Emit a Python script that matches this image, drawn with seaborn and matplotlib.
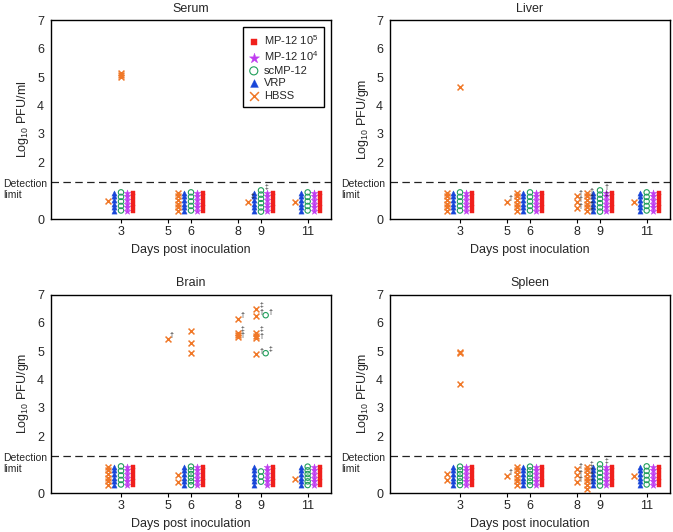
import pandas as pd
import seaborn as sns
import matplotlib
matplotlib.use("Agg")
from matplotlib import pyplot as plt
from matplotlib import transforms as mtransforms

# ------------------------------------------------- #
# series names, colours and markers
MP5 = "MP-12 10$^5$"
MP4 = "MP-12 10$^4$"
SC = "scMP-12"
VRP = "VRP"
HB = "HBSS"
legend_order = [MP5, MP4, SC, VRP, HB]
days = [3, 5, 6, 8, 9, 11]
detection_limit = 1.3

# stacked values under the detection limit
S2 = [0.45, 0.68]
S3 = [0.40, 0.58, 0.76]
S5 = [0.30, 0.46, 0.62, 0.78, 0.94]
S6 = [0.28, 0.41, 0.54, 0.67, 0.80, 0.93]
S6C = [0.26, 0.41, 0.56, 0.71, 0.86, 1.01]
S7 = [0.15, 0.28, 0.41, 0.54, 0.67, 0.80, 0.93]

# (series, day, values, shift)  shift=None -> usual group offset
serum = [
    (HB, 3, [0.62], None), (HB, 3, [5.0, 5.07, 5.16], 0),
    (VRP, 3, S6, None), (SC, 3, S5, None), (MP4, 3, S6, None), (MP5, 3, S6, None),
    (HB, 6, S6, None), (VRP, 6, S6, None), (SC, 6, S5, None), (MP4, 6, S6, None), (MP5, 6, S6, None),
    (HB, 9, [0.6], None), (VRP, 9, S6, None), (SC, 9, S6C, None), (MP4, 9, S6, None), (MP5, 9, S6, None),
    (HB, 11, [0.6], None), (VRP, 11, S6, None), (SC, 11, S5, None), (MP4, 11, S6, None), (MP5, 11, S6, None),
]
liver = [
    (HB, 3, S6, None), (HB, 3, [4.65], 0),
    (VRP, 3, S6, None), (SC, 3, S5, None), (MP4, 3, S6, None), (MP5, 3, S6, None),
    (HB, 5, [0.6], 0),
    (HB, 6, S6, None), (VRP, 6, S6, None), (SC, 6, S5, None), (MP4, 6, S6, None), (MP5, 6, S6, None),
    (HB, 8, [0.38, 0.61, 0.81], 0),
    (HB, 9, S6, None), (VRP, 9, S6, None), (SC, 9, S6C, None), (MP4, 9, S6, None), (MP5, 9, S6, None),
    (HB, 11, [0.6], None), (VRP, 11, S6, None), (SC, 11, S5, None), (MP4, 11, S6, None), (MP5, 11, S6, None),
]
brain = [
    (HB, 3, S6, None), (VRP, 3, S6, None), (SC, 3, S5, None), (MP4, 3, S6, None), (MP5, 3, S6, None),
    (HB, 5, [5.42], 0),
    (HB, 6, [4.95, 5.3, 5.72], 0),
    (HB, 6, [0.4, 0.62], None), (VRP, 6, S6, None), (SC, 6, S6, None), (MP4, 6, S6, None), (MP5, 6, S6, None),
    (HB, 8, [5.5, 5.58, 5.65, 6.12], 0),
    (HB, 9, [4.9, 5.48, 5.55, 5.65, 6.25, 6.48], -0.2),
    (SC, 9, [4.93, 6.27], 0.2),
    (VRP, 9, S6, None), (SC, 9, S3, None), (MP4, 9, S6, None), (MP5, 9, S6, None),
    (HB, 11, [0.5], None), (VRP, 11, S6, None), (SC, 11, S6, None), (MP4, 11, S6, None), (MP5, 11, S6, None),
]
spleen = [
    (HB, 3, S2, None), (HB, 3, [3.85, 4.93, 4.98], 0),
    (VRP, 3, S6, None), (SC, 3, S6, None), (MP4, 3, S6, None), (MP5, 3, S6, None),
    (HB, 5, [0.6], 0),
    (HB, 6, S6, None), (VRP, 6, S6, None), (SC, 6, S6, None), (MP4, 6, S6, None), (MP5, 6, S6, None),
    (HB, 8, [0.4, 0.62, 0.85], 0),
    (HB, 9, S7, None), (VRP, 9, S6, None), (SC, 9, S6C, None), (MP4, 9, S6, None), (MP5, 9, S6, None),
    (HB, 11, [0.6], None), (VRP, 11, S6, None), (SC, 11, S5, None), (MP4, 11, S6, None), (MP5, 11, S6, None),
]

# dagger marks (text, x, y)
serum_marks = [("‡", 8.62, 0.78), ("‡", 9.22, 1.1)]
liver_marks = [("†", 5.18, 0.72), ("†", 8.18, 0.9), ("†", 8.18, 0.68), ("†", 8.18, 0.45),
               ("†", 8.62, 0.98), ("†", 8.62, 0.75), ("†", 8.62, 0.52), ("†", 8.62, 0.3),
               ("†", 9.27, 1.12), ("‡", 9.27, 0.86)]
brain_marks = [("†", 5.18, 5.55), ("†", 8.2, 6.25), ("‡", 8.2, 5.75), ("†", 8.2, 5.55),
               ("‡", 9.0, 6.6), ("†", 9.0, 6.35), ("‡", 9.0, 5.75), ("†", 9.0, 5.52),
               ("†", 9.0, 5.0), ("†", 9.42, 6.38), ("‡", 9.42, 5.05)]
spleen_marks = [("†", 5.18, 0.72), ("†", 8.18, 0.92), ("†", 8.18, 0.7), ("†", 8.18, 0.47),
                ("‡", 8.62, 1.0), ("†", 8.62, 0.8), ("†", 8.62, 0.6), ("†", 8.62, 0.4),
                ("‡", 9.27, 1.1)]
# ------------------------------------------------- #

offset = {HB: -0.55, VRP: -0.28, SC: 0.0, MP4: 0.27, MP5: 0.53}
style = {
    MP5: dict(marker="s", s=9, color="#f0201c", edgecolor="#f0201c", linewidth=0.3),
    MP4: dict(marker="*", s=26, color="#c03cf0", edgecolor="#c03cf0", linewidth=0.3),
    SC: dict(marker="o", s=15, color="#1f9e5a", facecolors="none", edgecolor="#1f9e5a", linewidth=0.8),
    VRP: dict(marker="^", s=14, color="#1846d8", edgecolor="#1846d8", linewidth=0.3),
    HB: dict(marker="x", s=18, color="#f07828", linewidth=1.1),
}

sns.set_style("ticks")
plt.rcParams["font.family"] = ["Liberation Sans", "DejaVu Sans"]
plt.rcParams["mathtext.default"] = "regular"

fig = plt.figure(figsize=(6.73, 5.32), dpi=100)
W, H = 673, 532
panels = [
    ("Serum", serum, serum_marks, "Log$_{10}$ PFU/ml", (51, 219), 3),
    ("Liver", liver, liver_marks, "Log$_{10}$ PFU/gm", (390, 219), 341),
    ("Brain", brain, brain_marks, "Log$_{10}$ PFU/gm", (51, 493), 3),
    ("Spleen", spleen, spleen_marks, "Log$_{10}$ PFU/gm", (390, 493), 341),
]

for title, records, marks, ylab, (left, bottom), det_x in panels:
    ax = fig.add_axes([left / W, 1 - bottom / H, 280 / W, 198.5 / H])
    rows = []
    for ser, day, vals, shift in records:
        dx = offset[ser] if shift is None else shift
        for v in vals:
            rows.append({"x": day + dx, "y": v, "series": ser})
    df = pd.DataFrame(rows)
    for ser in [HB, VRP, SC, MP4, MP5]:
        sub = df[df["series"] == ser]
        sns.scatterplot(data=sub, x="x", y="y", ax=ax, legend=False, label=ser,
                        zorder=3, **style[ser])
    for txt, x, y in marks:
        ax.text(x, y, txt, fontsize=5, ha="center", va="center", zorder=4)

    ax.axhline(detection_limit, color="#222222", lw=0.9, dashes=(6, 3.5), zorder=1)
    ax.set_xlim(0, 12)
    ax.set_ylim(0, 7)
    ax.set_xticks(days)
    ax.set_xticklabels([str(d) for d in days])
    ax.set_yticks([0, 2, 3, 4, 5, 6, 7])
    ax.tick_params(axis="x", length=3, width=0.8, labelsize=9, pad=2, color="black")
    ax.tick_params(axis="y", length=0, labelsize=9, pad=5)
    ax.set_xlabel("Days post inoculation", fontsize=9, labelpad=4)
    ax.set_ylabel(ylab, fontsize=9, labelpad=4)
    ax.set_title(title, fontsize=9, pad=6)
    for sp in ax.spines.values():
        sp.set_color("black")
        sp.set_linewidth(1.0)

    trans = mtransforms.blended_transform_factory(fig.transFigure, ax.transData)
    ax.text(det_x / W, 1.24, "Detection", transform=trans, fontsize=7.5, va="center", ha="left")
    ax.text(det_x / W, 0.85, "limit", transform=trans, fontsize=7.5, va="center", ha="left")

    if title == "Serum":
        handles, labels = ax.get_legend_handles_labels()
        hmap = dict(zip(labels, handles))
        leg = ax.legend([hmap[l] for l in legend_order], legend_order, loc="upper right",
                        fontsize=8, frameon=True, fancybox=False, framealpha=1,
                        edgecolor="black", handlelength=0.8, handletextpad=0.5,
                        labelspacing=0.22, borderpad=0.55, borderaxespad=0.6,
                        markerscale=1.5)
        leg.get_frame().set_linewidth(1.0)

plt.savefig("out.png", dpi=100)
